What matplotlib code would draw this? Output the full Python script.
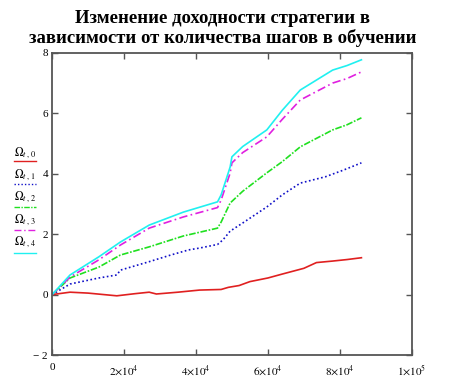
import numpy as np
import matplotlib
matplotlib.use('Agg')
import matplotlib.pyplot as plt
from matplotlib.lines import Line2D

# steps (thousands) and strategy returns
k0 = [0, 5, 10, 18, 23, 27, 29, 35, 41, 47, 49, 52, 55, 60, 64, 70, 73.5, 78, 82, 86]
r0 = [0, 0.08, 0.05, -0.04, 0.03, 0.08, 0.02, 0.08, 0.15, 0.17, 0.24, 0.3, 0.43, 0.55, 0.68, 0.87, 1.06, 1.11, 1.16, 1.22]

k1 = [0, 5, 13, 18, 19, 27, 33, 38, 41, 46, 47.5, 49.5, 53, 59.7, 64, 69, 76, 81, 86]
r1 = [0, 0.35, 0.55, 0.65, 0.81, 1.09, 1.31, 1.48, 1.54, 1.66, 1.81, 2.1, 2.37, 2.9, 3.3, 3.69, 3.9, 4.12, 4.36]

k2 = [0, 5, 13, 19, 27, 36.5, 46, 47, 49.5, 53, 59.7, 64, 69, 78, 82, 86]
r2 = [0, 0.55, 0.91, 1.31, 1.58, 1.94, 2.2, 2.4, 3.03, 3.42, 4.03, 4.4, 4.89, 5.45, 5.62, 5.85]

k3 = [0, 5, 13, 19, 27, 36.5, 46, 47, 49.5, 50, 53, 59.7, 64, 69, 78, 82, 86]
r3 = [0, 0.58, 1.15, 1.64, 2.2, 2.57, 2.88, 3.13, 4.02, 4.36, 4.7, 5.22, 5.8, 6.44, 7.0, 7.15, 7.37]

k4 = [0, 5, 13, 19, 27, 36.5, 46, 47, 49.5, 50, 53, 59.7, 64, 69, 78, 82, 86]
r4 = [0, 0.65, 1.25, 1.74, 2.3, 2.73, 3.07, 3.3, 4.22, 4.56, 4.9, 5.45, 6.1, 6.77, 7.43, 7.58, 7.77]

labels = [r'$\Omega_{t\,,\,0}$', r'$\Omega_{t\,,\,1}$', r'$\Omega_{t\,,\,2}$',
          r'$\Omega_{t\,,\,3}$', r'$\Omega_{t\,,\,4}$']
colors = ['#e02020', '#1010c8', '#20e020', '#e020e0', '#20f0f0']
styles = ['-', (0, (1, 1.5)), (0, (4, 1, 1, 1)), (0, (5, 2, 1, 2)), '-']

xticks = [0, 2e4, 4e4, 6e4, 8e4, 1e5]
xticklabels = ['0', r'$2{\times}10^4$', r'$4{\times}10^4$', r'$6{\times}10^4$',
               r'$8{\times}10^4$', r'$1{\times}10^5$']
yticks = [-2, 0, 2, 4, 6, 8]
yticklabels = ['\u2212 2', '0', '2', '4', '6', '8']

plt.rcParams['font.family'] = 'Liberation Serif'
plt.rcParams['mathtext.fontset'] = 'stix'

fig = plt.figure(figsize=(4.69, 3.83), dpi=100)
ax = fig.add_axes([0.111, 0.073, 0.767, 0.789])

series = [(k0, r0), (k1, r1), (k2, r2), (k3, r3), (k4, r4)]
for (k, r), c, ls in zip(series, colors, styles):
    ax.plot(np.array(k) * 1000, r, color=c, ls=ls, lw=1.2)

ax.set_xlim(0, 1e5)
ax.set_ylim(-2, 8)
ax.set_xticks(xticks)
ax.set_xticklabels(xticklabels)
ax.set_yticks(yticks)
ax.set_yticklabels(yticklabels)
ax.tick_params(direction='in', length=4, width=1, colors='#555555',
               labelcolor='black', labelsize=8, top=True, right=True)
ax.tick_params(axis='x', pad=6)
ax.tick_params(axis='y', pad=3)
for sp in ax.spines.values():
    sp.set_color('#555555')
    sp.set_linewidth(1.3)

fig.text(0.475, 0.975, 'Изменение доходности стратегии в\nзависимости от количества шагов в обучении',
         ha='center', va='top', fontsize=13.5, fontweight='bold', linespacing=1.2)

# legend to the left of the plot (pixel rows from the reference)
H = 383.0
for i, (lab, c, ls) in enumerate(zip(labels, colors, styles)):
    yt = 153 + i * 22.3
    yl = 161 + i * 23
    fig.text(0.03, 1 - yt / H, lab, fontsize=8.5, ha='left', va='center')
    fig.add_artist(Line2D([0.03, 0.077], [1 - yl / H, 1 - yl / H], color=c, ls=ls, lw=1,
                          transform=fig.transFigure))

fig.savefig('out.png', dpi=100)
